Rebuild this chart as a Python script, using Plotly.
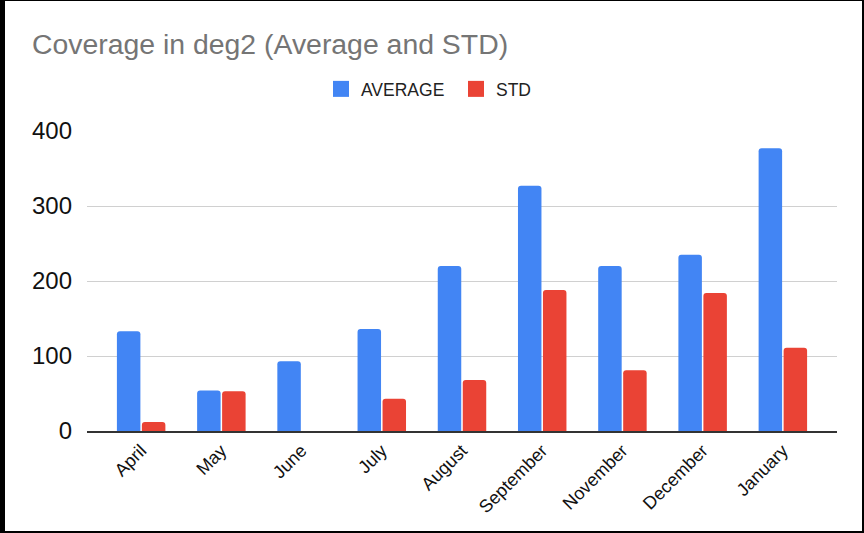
import plotly.graph_objects as go

# Monthly coverage statistics (deg2)
months = ["April", "May", "June", "July", "August", "September",
          "November", "December", "January"]
average = [133, 54, 93, 136, 220, 327, 220, 235, 377]
std = [12, 53, 0, 43, 68, 188, 81, 184, 111]

y_ticks = [0, 100, 200, 300, 400]

BLUE = "#4285F4"
RED = "#EA4335"
FONT = "Liberation Sans, Arial, sans-serif"

W, H = 864, 533
L, R, T, B = 87, 27, 130, 102
PW, PH = W - L - R, H - T - B


def px_x(px):
    return (px - L) / PW


def px_y(py):
    return (H - B - py) / PH


fig = go.Figure()
fig.add_trace(go.Bar(x=months, y=average, name="AVERAGE",
                     marker=dict(color=BLUE, line=dict(width=0)),
                     showlegend=False))
fig.add_trace(go.Bar(x=months, y=std, name="STD",
                     marker=dict(color=RED, line=dict(width=0)),
                     showlegend=False))

# legend entries with larger square swatches
fig.add_trace(go.Scatter(x=[None], y=[None], mode="markers", name="AVERAGE",
                         marker=dict(symbol="square", size=17, color=BLUE)))
fig.add_trace(go.Scatter(x=[None], y=[None], mode="markers", name="STD",
                         marker=dict(symbol="square", size=17, color=RED)))

# black frame around the chart
frame = [
    (0, 0, 5, H),
    (0, 0, W, 1),
    (W - 2, 0, W, H),
    (0, H - 2, W, H),
]
shapes = []
for x0, y0, x1, y1 in frame:
    shapes.append(dict(type="rect", xref="paper", yref="paper",
                       x0=px_x(x0), x1=px_x(x1), y0=px_y(y1), y1=px_y(y0),
                       fillcolor="black", line=dict(width=0), layer="above"))

fig.update_layout(
    width=W, height=H,
    margin=dict(l=L, r=R, t=T, b=B, pad=0),
    paper_bgcolor="white",
    plot_bgcolor="white",
    font=dict(family=FONT, color="#222222"),
    title=dict(text="Coverage in deg2 (Average and STD)",
               font=dict(family=FONT, size=28.4, color="#757575"),
               x=32 / W, xanchor="left", xref="container",
               y=1 - 44 / H, yanchor="middle", yref="container"),
    barmode="group",
    bargap=0.377,
    bargroupgap=0.06,
    barcornerradius=3,
    legend=dict(orientation="h", x=px_x(456), xanchor="center",
                y=px_y(89), yanchor="middle",
                font=dict(family=FONT, size=17.5, color="#222222"),
                itemsizing="trace", entrywidth=90, entrywidthmode="pixels",
                bgcolor="rgba(0,0,0,0)"),
    xaxis=dict(type="category", range=[-0.675, 8.675],
               tickangle=-45, tickfont=dict(size=18, color="#111111"),
               showgrid=False, showline=True, linecolor="#333333",
               linewidth=2, ticks="", zeroline=False, fixedrange=True),
    yaxis=dict(range=[0, 401.33], tickvals=y_ticks,
               ticktext=[str(v) for v in y_ticks],
               tickfont=dict(size=24, color="#111111"),
               showgrid=True, gridcolor="#d0d0d0", gridwidth=1,
               zeroline=False, showline=False, ticks="",
               ticklabelstandoff=14, fixedrange=True),
    shapes=shapes,
)

fig.write_html("out.html", config={"displayModeBar": False})
